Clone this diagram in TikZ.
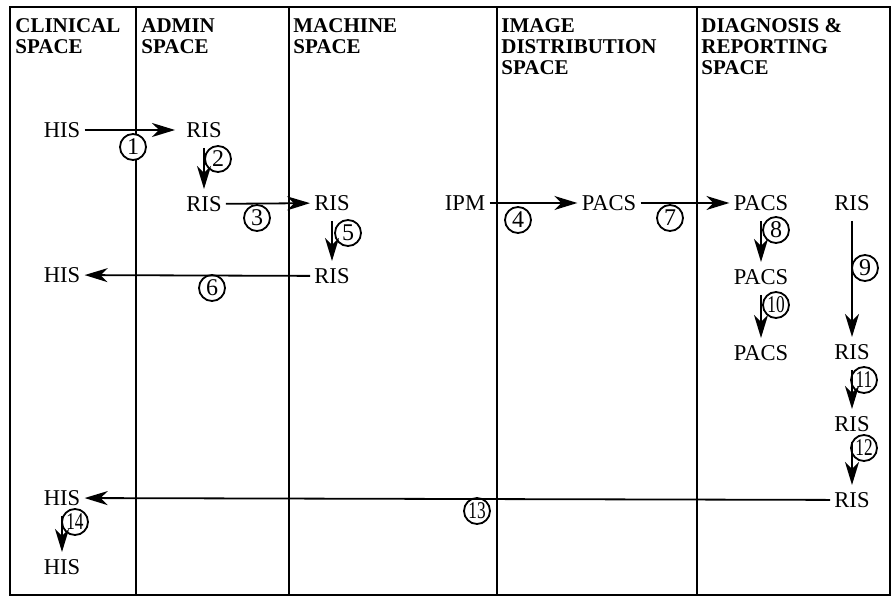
\documentclass[tikz,border=0pt]{standalone}
\usepackage{fontspec}
\setmainfont{Liberation Serif}
\usetikzlibrary{positioning,arrows.meta}
\newcommand\twodig[1]{\scalebox{0.72}[1]{#1}}

\begin{document}
\begin{tikzpicture}[x=0.5pt,y=-0.5pt,
  font=\fontsize{11.3}{13}\selectfont,
  >={Stealth[length=11.5pt,width=7pt,inset=3.5pt]},
  frame/.style={line width=1pt},
  head/.style={anchor=north west,align=left,inner sep=0pt,font=\fontsize{10.5}{10.5}\selectfont\bfseries},
  sys/.style={inner sep=2pt},
  flow/.style={->,line width=0.9pt},
  down/.style={flow,shorten <=3pt,shorten >=1.5pt},
  num/.style={circle,draw,line width=0.9pt,fill=white,inner sep=0pt,minimum size=13pt,font=\fontsize{12}{12}\selectfont},
]
\useasboundingbox (0,0) rectangle (894,597);
% spaces
\draw[frame] (10,7) rectangle (890,595);
\foreach \x in {136,289,497,697}
  \draw[frame] (\x,7) -- (\x,595);
\node[head] (hclin) at (15,18) {CLINICAL\\SPACE};
\node[head] (hadmin) at (141,18) {ADMIN\\SPACE};
\node[head] (hmach) at (293,18) {MACHINE\\SPACE};
\node[head] (hdist) at (501,18) {IMAGE\\DISTRIBUTION\\SPACE};
\node[head] (hdiag) at (701,18) {DIAGNOSIS \&\\REPORTING\\SPACE};
% systems
\node[sys] (his1) at (62,130) {HIS};
\node[sys] (ris1) at (204,130) {RIS};
\node[sys,below=25pt of ris1] (ris2) {RIS};
\node[sys] (ris3) at (332,203) {RIS};
\node[sys,below=24.5pt of ris3] (ris4) {RIS};
\node[sys] (his2) at (62,275) {HIS};
\node[sys] (ipm) at (465,203) {IPM};
\node[sys] (pacs1) at (609,203) {PACS};
\node[sys] (pacs2) at (761,203) {PACS};
\node[sys,below=25pt of pacs2] (pacs3) {PACS};
\node[sys,below=26pt of pacs3] (pacs4) {PACS};
\node[sys] (ris5) at (852,203) {RIS};
\node[sys] (ris6) at (852,352) {RIS};
\node[sys,below=24pt of ris6] (ris7) {RIS};
\node[sys,below=26pt of ris7] (ris8) {RIS};
\node[sys] (his3) at (62,498) {HIS};
\node[sys,below=22.5pt of his3] (his4) {HIS};
% step numbers
\node[num] (n1) at (133,147) {1};
\node[num] (n2) at (218,159) {2};
\node[num] (n3) at (257,218) {3};
\node[num] (n4) at (518,220) {4};
\node[num] (n5) at (348,233) {5};
\node[num] (n6) at (212,288) {6};
\node[num] (n7) at (670,218) {7};
\node[num] (n8) at (776,230) {8};
\node[num] (n9) at (865,268) {9};
\node[num] (n10) at (776,305) {\twodig{10}};
\node[num] (n11) at (864,380) {\twodig{11}};
\node[num] (n12) at (864,448) {\twodig{12}};
\node[num] (n13) at (477,511) {\twodig{13}};
\node[num] (n14) at (75,522) {\twodig{14}};
% message flows
\draw[flow,shorten >=3.5pt] (his1) -- (ris1);
\draw[down] (ris1) -- (ris2);
\draw[flow] (ris2) -- (ris3);
\draw[flow] (ipm) -- (pacs1);
\draw[down] (ris3) -- (ris4);
\draw[flow] (ris4) -- (his2);
\draw[flow] (pacs1) -- (pacs2);
\draw[down] (pacs2) -- (pacs3);
\draw[down] (ris5) -- (ris6);
\draw[down] (pacs3) -- (pacs4);
\draw[down] (ris6) -- (ris7);
\draw[down] (ris7) -- (ris8);
\draw[flow] (ris8) -- (his3);
\draw[down] (his3) -- (his4);
\end{tikzpicture}
\end{document}
